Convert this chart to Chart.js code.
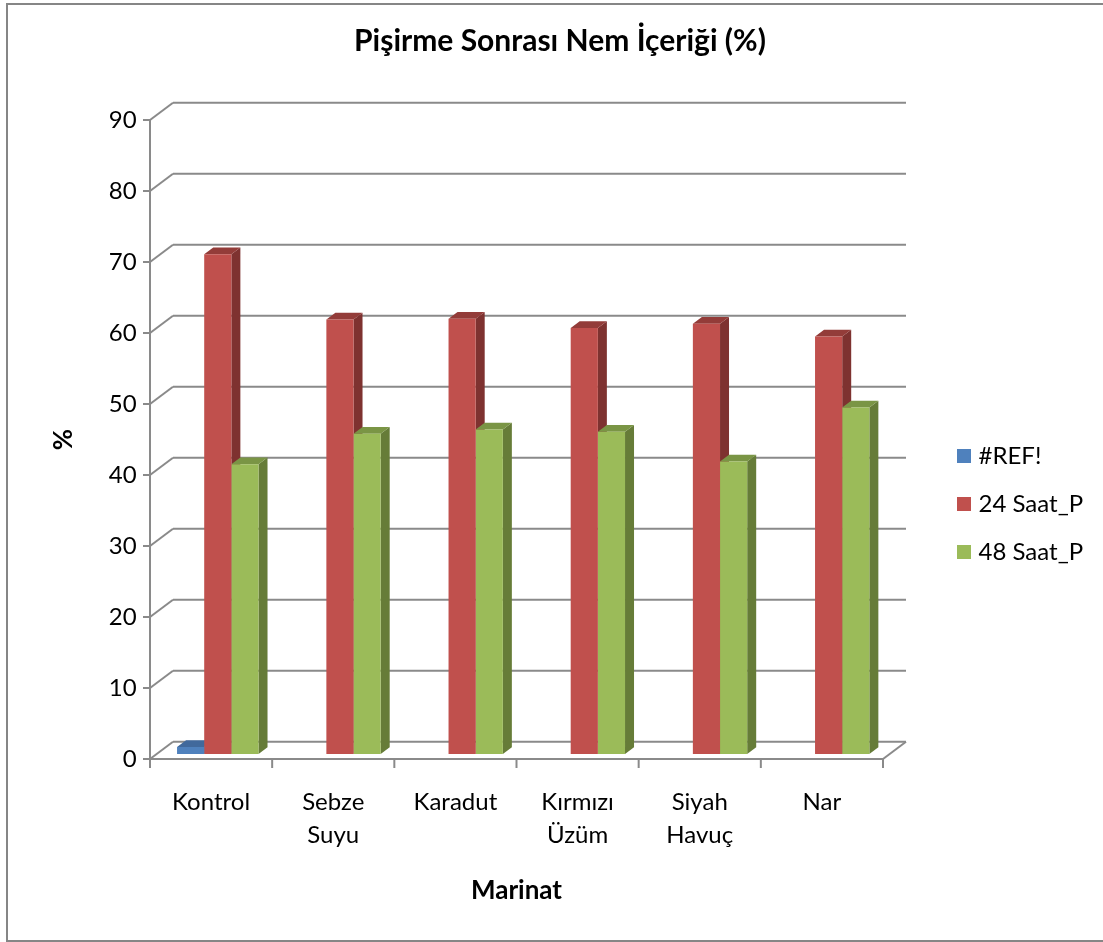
<!DOCTYPE html>
<html>
<head>
<meta charset="utf-8">
<script src="https://cdn.jsdelivr.net/npm/chart.js@4/dist/chart.umd.min.js"></script>
<style>
  html, body { margin: 0; padding: 0; background: #ffffff; }
  #c { display: block; }
</style>
</head>
<body>
<canvas id="c" width="1103" height="942"></canvas>
<script>
// ---- data ----
const categories = ['Kontrol', ['Sebze', 'Suyu'], 'Karadut', ['Kırmızı', 'Üzüm'], ['Siyah', 'Havuç'], 'Nar'];
const seriesNames = ['#REF!', '24 Saat_P', '48 Saat_P'];
const refValues = [1, null, null, null, null, null];
const saat24Values = [70.4, 61.2, 61.3, 60.0, 60.6, 58.8];
const saat48Values = [40.8, 45.1, 45.7, 45.4, 41.2, 48.8];
const yTicks = [0, 10, 20, 30, 40, 50, 60, 70, 80, 90];

const chartTitle = 'Pişirme Sonrası Nem İçeriği (%)';
const xTitle = 'Marinat';
const yTitle = '%';

// ---- look ----
const FONT = 'Lato, "Open Sans", "Noto Sans", sans-serif';
const palette = [
  { front: '#4F81BD', side: '#3B6396', top: '#41699C' },
  { front: '#C0504D', side: '#7E3230', top: '#933C39' },
  { front: '#9BBB59', side: '#667C38', top: '#7A9545' }
];
const GRID = '#8A8A8A';
// oblique projection offsets measured from the plane the bars stand in
const FRONT = { dx: -6.7, dy: 5 };
const BACK = { dx: 16.3, dy: -12.3 };
const BAR_DEPTH = { dx: 9, dy: -6.7 };

function line(ctx, x1, y1, x2, y2) {
  ctx.beginPath();
  ctx.moveTo(x1, y1);
  ctx.lineTo(x2, y2);
  ctx.stroke();
}
function poly(ctx, pts, fill) {
  ctx.beginPath();
  ctx.moveTo(pts[0][0], pts[0][1]);
  for (let i = 1; i < pts.length; i++) ctx.lineTo(pts[i][0], pts[i][1]);
  ctx.closePath();
  ctx.fillStyle = fill;
  ctx.fill();
}

// frame, walls, floor and the 3D faces of the columns
const box3d = {
  id: 'box3d',
  beforeDraw(chart) {
    const ctx = chart.ctx;
    ctx.save();
    ctx.fillStyle = '#ffffff';
    ctx.fillRect(0, 0, chart.width, chart.height);
    ctx.strokeStyle = '#868686';
    ctx.lineWidth = 2;
    ctx.strokeRect(7, 4, chart.width + 20, 937);
    ctx.restore();
  },
  beforeDatasetsDraw(chart) {
    const ctx = chart.ctx;
    const a = chart.chartArea;
    const ys = chart.scales.y;
    const xs = chart.scales.x;
    ctx.save();
    ctx.strokeStyle = GRID;
    ctx.lineWidth = 2;
    ctx.lineCap = 'butt';

    // back wall gridlines with their diagonal links to the front axis
    yTicks.forEach(v => {
      const py = ys.getPixelForValue(v);
      line(ctx, a.left + BACK.dx, py + BACK.dy, a.right + BACK.dx, py + BACK.dy);
      line(ctx, a.left + FRONT.dx, py + FRONT.dy, a.left + BACK.dx, py + BACK.dy);
      line(ctx, a.left + FRONT.dx - 7, py + FRONT.dy, a.left + FRONT.dx, py + FRONT.dy);
    });

    // front value axis
    const top = ys.getPixelForValue(yTicks[yTicks.length - 1]);
    const zero = ys.getPixelForValue(0);
    line(ctx, a.left + FRONT.dx, top + FRONT.dy, a.left + FRONT.dx, zero + FRONT.dy);

    // floor: front edge and right edge
    line(ctx, a.left + FRONT.dx - 1, zero + FRONT.dy, a.right + FRONT.dx, zero + FRONT.dy);
    line(ctx, a.right + FRONT.dx, zero + FRONT.dy, a.right + BACK.dx, zero + BACK.dy);

    // category tick marks along the floor edge
    const step = xs.getPixelForTick(1) - xs.getPixelForTick(0);
    for (let k = 0; k <= categories.length; k++) {
      const px = xs.getPixelForTick(0) - step / 2 + k * step + FRONT.dx;
      line(ctx, px, zero + FRONT.dy, px, zero + FRONT.dy + 9);
    }

    // side and top faces of every column (front faces are drawn by Chart.js)
    chart.data.datasets.forEach((ds, i) => {
      const meta = chart.getDatasetMeta(i);
      meta.data.forEach((el, j) => {
        if (ds.data[j] === null || ds.data[j] === undefined) return;
        const p = el.getProps(['x', 'y', 'base', 'width'], true);
        const l = p.x - p.width / 2, r = p.x + p.width / 2;
        const t = p.y, b = p.base;
        poly(ctx, [[r, t], [r + BAR_DEPTH.dx, t + BAR_DEPTH.dy], [r + BAR_DEPTH.dx, b + BAR_DEPTH.dy], [r, b]], palette[i].side);
        poly(ctx, [[l, t], [l + BAR_DEPTH.dx, t + BAR_DEPTH.dy], [r + BAR_DEPTH.dx, t + BAR_DEPTH.dy], [r, t]], palette[i].top);
      });
    });
    ctx.restore();
  },
  afterDraw(chart) {
    const ctx = chart.ctx;
    const a = chart.chartArea;
    const ys = chart.scales.y;
    ctx.save();
    ctx.fillStyle = '#000000';

    // chart title
    ctx.font = 'bold 30px ' + FONT;
    ctx.textAlign = 'center';
    ctx.textBaseline = 'alphabetic';
    ctx.fillText(chartTitle, 560, 51);

    // category axis title, centred on the front floor edge
    ctx.font = 'bold 26px ' + FONT;
    const frontMid = (a.left + a.right) / 2 + FRONT.dx;
    ctx.fillText(xTitle, frontMid, 899);

    // value axis title
    const midY = (ys.getPixelForValue(0) + ys.getPixelForValue(90)) / 2 + FRONT.dy;
    ctx.save();
    ctx.translate(72, midY);
    ctx.rotate(-Math.PI / 2);
    ctx.textBaseline = 'alphabetic';
    ctx.fillText(yTitle, 0, 0);
    ctx.restore();

    // legend
    ctx.font = '24px ' + FONT;
    ctx.textAlign = 'left';
    chart.data.datasets.forEach((ds, i) => {
      const cy = 456 + i * 48;
      ctx.fillStyle = palette[i].front;
      ctx.fillRect(957, cy - 7, 14, 14);
      ctx.fillStyle = '#000000';
      ctx.fillText(ds.label, 978.5, cy + 8);
    });
    ctx.restore();
  }
};

function build() {
  const seriesData = [refValues, saat24Values, saat48Values];
  new Chart(document.getElementById('c'), {
    type: 'bar',
    data: {
      labels: categories,
      datasets: seriesNames.map((name, i) => ({
        label: name,
        data: seriesData[i],
        backgroundColor: palette[i].front,
        borderWidth: 0,
        categoryPercentage: 0.667,
        barPercentage: 1.0
      }))
    },
    options: {
      responsive: false,
      animation: false,
      events: [],
      layout: { padding: { left: 0, right: 213.3, top: 115, bottom: 0 } },
      plugins: {
        legend: { display: false },
        title: { display: false },
        tooltip: { enabled: false }
      },
      scales: {
        x: {
          grid: { display: false, drawTicks: false },
          border: { display: false },
          ticks: {
            color: '#000000',
            font: { family: FONT, size: 24, lineHeight: 1.375 },
            padding: 32,
            labelOffset: FRONT.dx,
            maxRotation: 0,
            autoSkip: false
          },
          afterFit(scale) { scale.height = 188; }
        },
        y: {
          min: 0,
          max: 90,
          grid: { display: false, drawTicks: false },
          border: { display: false },
          ticks: {
            color: '#000000',
            font: { family: FONT, size: 24 },
            stepSize: 10,
            padding: 20,
            labelOffset: FRONT.dy
          },
          afterFit(scale) { scale.width = 156.7; }
        }
      }
    },
    plugins: [box3d]
  });
}

const fontsReady = document.fonts && document.fonts.load
  ? Promise.all([document.fonts.load('24px Lato'), document.fonts.load('bold 24px Lato')])
  : Promise.resolve();
fontsReady.then(build, build);
</script>
</body>
</html>
